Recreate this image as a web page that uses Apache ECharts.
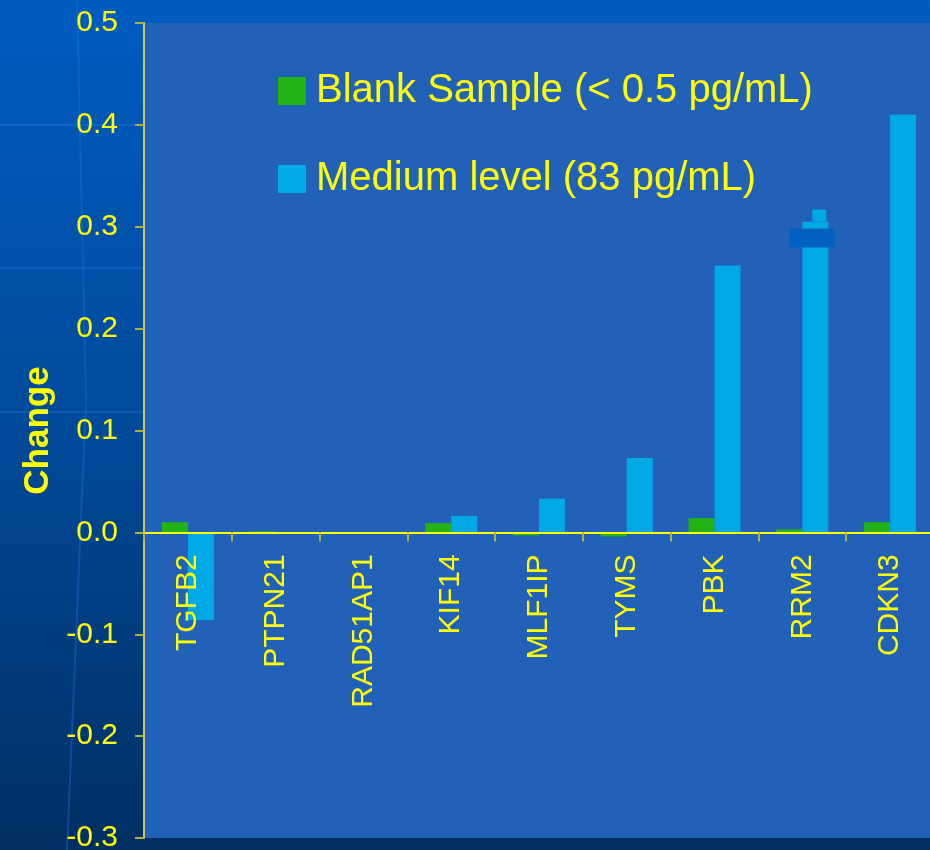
<!DOCTYPE html>
<html>
<head>
<meta charset="utf-8">
<script src="https://cdn.jsdelivr.net/npm/echarts@6/dist/echarts.min.js"></script>
<style>
html,body{margin:0;padding:0;background:#004080;}
#chart{width:930px;height:850px;}
</style>
</head>
<body>
<div id="chart"></div>
<script>
var categories = ['TGFB2','PTPN21','RAD51AP1','KIF14','MLF1IP','TYMS','PBK','RRM2','CDKN3'];
var blankValues = [0.010, 0.001, 0.000, 0.009, -0.003, -0.004, 0.014, 0.003, 0.010];
var mediumValues = [-0.086, 0.000, 0.000, 0.016, 0.033, 0.073, 0.262, 0.305, 0.410];
var seriesNames = ['Blank Sample (< 0.5 pg/mL)', 'Medium level (83 pg/mL)'];
var yTicks = { min: -0.3, max: 0.5, interval: 0.1 };

var chart = echarts.init(document.getElementById('chart'), null, {renderer:'canvas'});
var yellow = '#ffff00';
var font = '"Liberation Sans", Arial, sans-serif';

var gridTop = 23, gridBottom = 12, gridHeight = 850 - gridTop - gridBottom;
// place the category axis at value 0 using the value range
var zeroOffset = -gridHeight * (0 - yTicks.min) / (yTicks.max - yTicks.min);

var option = {
  backgroundColor: {
    type: 'linear', x: 0, y: 0, x2: 0, y2: 1,
    colorStops: [
      {offset: 0, color: '#005cc0'},
      {offset: 0.5, color: '#004a9a'},
      {offset: 1, color: '#002f62'}
    ]
  },
  animation: false,
  textStyle: { fontFamily: font },
  graphic: [
    {type:'line', shape:{x1:0,y1:125,x2:144,y2:125}, style:{stroke:'#1a70d8', lineWidth:2, opacity:0.5}, silent:true, z:-1},
    {type:'line', shape:{x1:0,y1:268,x2:144,y2:268}, style:{stroke:'#1a70d8', lineWidth:2, opacity:0.4}, silent:true, z:-1},
    {type:'line', shape:{x1:0,y1:412,x2:144,y2:412}, style:{stroke:'#1a70d8', lineWidth:2, opacity:0.4}, silent:true, z:-1},
    {type:'polyline', shape:{points:[[77,0],[86,400],[67,850]]}, style:{stroke:'#1a70d8', lineWidth:2, fill:null, opacity:0.4}, silent:true, z:-1}
  ],
  grid: {
    left: 144, top: gridTop, width: 790, bottom: gridBottom,
    show: true, backgroundColor: '#2261b8', borderWidth: 0,
    containLabel: false,
    outerBoundsMode: 'none'
  },
  legend: {
    orient: 'vertical',
    left: 278, top: 71,
    padding: 0,
    itemWidth: 28, itemHeight: 28,
    itemGap: 48,
    icon: 'rect',
    textStyle: { color: yellow, fontSize: 40, fontFamily: font, padding: [0,0,0,5] },
    data: seriesNames
  },
  xAxis: {
    type: 'category',
    data: categories,
    position: 'bottom',
    offset: zeroOffset,
    z: 5,
    axisLine: { show: true, onZero: false, lineStyle: { color: yellow, width: 2 } },
    axisTick: { show: true, length: 9, lineStyle: { color: '#b0b040', width: 2 } },
    axisLabel: { rotate: 90, color: yellow, fontSize: 30, margin: 22, fontFamily: font, interval: 0 },
    splitLine: { show: false }
  },
  yAxis: {
    type: 'value',
    min: yTicks.min, max: yTicks.max, interval: yTicks.interval,
    name: 'Change',
    nameLocation: 'middle',
    nameRotate: 90,
    nameGap: 88,
    nameTextStyle: { color: yellow, fontSize: 35, fontWeight: 'bold', fontFamily: font },
    axisLine: { show: true, lineStyle: { color: '#c8c850', width: 2 } },
    axisTick: { show: true, length: 9, lineStyle: { color: '#b0b040', width: 2 } },
    axisLabel: { color: yellow, fontSize: 30, margin: 26, fontFamily: font,
      formatter: function(v){ return v.toFixed(1); } },
    splitLine: { show: false }
  },
  series: [
    {
      name: seriesNames[0], type: 'bar', data: blankValues,
      barWidth: 26, barGap: '0%',
      itemStyle: { color: '#22b414' }
    },
    {
      name: seriesNames[1], type: 'bar', data: mediumValues,
      barWidth: 26, barGap: '0%',
      itemStyle: { color: '#00a8e6' },
      markPoint: {
        silent: true,
        label: { show: false },
        data: [
          { coord: ['RRM2', 0.311], symbol: 'rect', symbolSize: [14, 12], symbolOffset: [4, 0], itemStyle: { color: '#00a8e6' } },
          { coord: ['RRM2', 0.289], symbol: 'rect', symbolSize: [45, 19], symbolOffset: [-3.5, 0], itemStyle: { color: '#0060c0' } }
        ]
      }
    }
  ]
};
chart.setOption(option);
</script>
</body>
</html>
